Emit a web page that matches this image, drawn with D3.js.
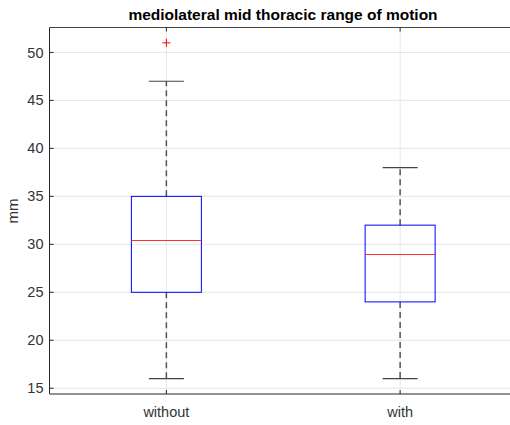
<!DOCTYPE html>
<html>
<head>
<meta charset="utf-8">
<script src="https://cdn.jsdelivr.net/npm/d3@7"></script>
<style>
  body { margin: 0; background: #fff; }
  text { font-family: Arial, "Liberation Sans", sans-serif; }
</style>
</head>
<body>
<script>
// chart data
var groups = ["without", "with"];
var lowerWhisker = [16, 16];
var q1 = [25, 24];
var medians = [30.5, 29];
var q3 = [35, 32];
var upperWhisker = [47, 38];
var outliers = [[51], []];
var yTicks = [15, 20, 25, 30, 35, 40, 45, 50];

var width = 510, height = 425;
var axLeft = 49.5, axTop = 27.5, axBottom = 394;

var svg = d3.select("body")
    .append("svg")
    .attr("width", width)
    .attr("height", height);

// boxplot style x positions: 1, 2 with limits [0.5, 2.5]
var x = d3.scaleLinear().domain([0.5, 2.5]).range([axLeft, 517]);
var y = d3.scaleLinear().domain([14.4, 52.6]).range([axBottom, axTop]);

var boxW = 70, capW = 35;

// grid
svg.append("g").selectAll("line.gy")
    .data(yTicks).enter().append("line")
    .attr("x1", axLeft).attr("x2", width)
    .attr("y1", function(d){ return y(d); })
    .attr("y2", function(d){ return y(d); })
    .attr("stroke", "#e6e6e6").attr("stroke-width", 1);

svg.append("g").selectAll("line.gx")
    .data(groups).enter().append("line")
    .attr("x1", function(d, i){ return x(i + 1); })
    .attr("x2", function(d, i){ return x(i + 1); })
    .attr("y1", axTop).attr("y2", axBottom)
    .attr("stroke", "#e6e6e6").attr("stroke-width", 1);

// boxes
var g = svg.append("g").selectAll("g.box")
    .data(groups).enter().append("g");

g.each(function(d, i){
    var el = d3.select(this);
    var cx = x(i + 1);
    // whiskers (dashed)
    el.append("line")
        .attr("x1", cx).attr("x2", cx)
        .attr("y1", y(q3[i])).attr("y2", y(upperWhisker[i]))
        .attr("stroke", "#555").attr("stroke-width", 1.5)
        .attr("stroke-dasharray", "6,4");
    el.append("line")
        .attr("x1", cx).attr("x2", cx)
        .attr("y1", y(q1[i])).attr("y2", y(lowerWhisker[i]))
        .attr("stroke", "#555").attr("stroke-width", 1.5)
        .attr("stroke-dasharray", "6,4");
    // caps
    [upperWhisker[i], lowerWhisker[i]].forEach(function(v){
        el.append("line")
            .attr("x1", cx - capW / 2).attr("x2", cx + capW / 2)
            .attr("y1", y(v)).attr("y2", y(v))
            .attr("stroke", "#444").attr("stroke-width", 1.2);
    });
    // box
    el.append("rect")
        .attr("x", cx - boxW / 2)
        .attr("y", y(q3[i]))
        .attr("width", boxW)
        .attr("height", y(q1[i]) - y(q3[i]))
        .attr("fill", "none")
        .attr("stroke", "#0000ff").attr("stroke-width", 1);
    // median
    el.append("line")
        .attr("x1", cx - boxW / 2).attr("x2", cx + boxW / 2)
        .attr("y1", Math.round(y(medians[i])) + 0.5)
        .attr("y2", Math.round(y(medians[i])) + 0.5)
        .attr("stroke", "#ff3030").attr("stroke-width", 1);
    // outliers
    outliers[i].forEach(function(v){
        el.append("path")
            .attr("d", "M" + (cx - 4) + "," + y(v) + "H" + (cx + 4) +
                       "M" + cx + "," + (y(v) - 4) + "V" + (y(v) + 4))
            .attr("stroke", "#ff0000").attr("stroke-width", 1);
    });
});

// axes box
svg.append("line")
    .attr("x1", axLeft).attr("x2", width).attr("y1", axTop).attr("y2", axTop)
    .attr("stroke", "#444").attr("stroke-width", 1);
svg.append("line")
    .attr("x1", axLeft).attr("x2", width).attr("y1", axBottom).attr("y2", axBottom)
    .attr("stroke", "#262626").attr("stroke-width", 1);
svg.append("line")
    .attr("x1", axLeft).attr("x2", axLeft).attr("y1", axTop).attr("y2", axBottom)
    .attr("stroke", "#262626").attr("stroke-width", 1);

// y ticks
var yAxis = svg.append("g");
yTicks.forEach(function(t){
    yAxis.append("line")
        .attr("x1", axLeft).attr("x2", axLeft + 4)
        .attr("y1", y(t)).attr("y2", y(t))
        .attr("stroke", "#262626");
    yAxis.append("text")
        .attr("x", axLeft - 6).attr("y", y(t))
        .attr("dy", "0.35em")
        .attr("text-anchor", "end")
        .attr("font-size", 14.5)
        .attr("fill", "#333")
        .text(t);
});

// x ticks
groups.forEach(function(d, i){
    svg.append("line")
        .attr("x1", x(i + 1)).attr("x2", x(i + 1))
        .attr("y1", axBottom).attr("y2", axBottom - 4)
        .attr("stroke", "#262626");
    svg.append("line")
        .attr("x1", x(i + 1)).attr("x2", x(i + 1))
        .attr("y1", axTop).attr("y2", axTop + 4)
        .attr("stroke", "#262626");
    svg.append("text")
        .attr("x", x(i + 1)).attr("y", 417)
        .attr("text-anchor", "middle")
        .attr("font-size", 14.5)
        .attr("fill", "#333")
        .text(d);
});

// labels
svg.append("text")
    .attr("transform", "translate(18,211) rotate(-90)")
    .attr("text-anchor", "middle")
    .attr("font-size", 15)
    .attr("fill", "#333")
    .text("mm");

svg.append("text")
    .attr("x", 283).attr("y", 20)
    .attr("text-anchor", "middle")
    .attr("font-size", 15.5)
    .attr("font-weight", "bold")
    .attr("fill", "#000")
    .text("mediolateral mid thoracic range of motion");
</script>
</body>
</html>
